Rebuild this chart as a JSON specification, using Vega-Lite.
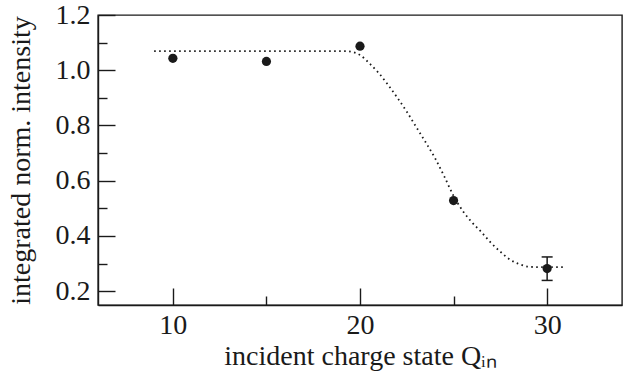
{
  "$schema": "https://vega.github.io/schema/vega-lite/v6.json",
  "width": 524,
  "height": 290,
  "autosize": {"type": "none"},
  "padding": {"left": 98, "top": 15, "right": 1, "bottom": 68},
  "background": "white",
  "config": {
    "view": {"stroke": "#1a1a1a", "strokeWidth": 1.4},
    "axis": {
      "domainColor": "#1a1a1a", "domainWidth": 1.4,
      "tickColor": "#1a1a1a", "tickWidth": 1.4,
      "labelColor": "#1a1a1a", "titleColor": "#1a1a1a",
      "labelFont": "Liberation Serif", "titleFont": "Liberation Serif",
      "labelFontSize": 28, "titleFontSize": 28, "titleFontWeight": "normal",
      "grid": false
    }
  },
  "datasets": {
    "points": [
      {"q": 10, "v": 1.043},
      {"q": 15, "v": 1.032},
      {"q": 20, "v": 1.087},
      {"q": 25, "v": 0.528},
      {"q": 30, "v": 0.282}
    ],
    "err": [
      {"q": 30, "lo": 0.239, "hi": 0.324}
    ],
    "curve": [
      {"q": 9.0, "v": 1.069},
      {"q": 19.3, "v": 1.069},
      {"q": 19.6, "v": 1.066},
      {"q": 20.0, "v": 1.055},
      {"q": 20.5, "v": 1.025},
      {"q": 21.0, "v": 0.99},
      {"q": 21.5, "v": 0.947},
      {"q": 22.0, "v": 0.9},
      {"q": 22.5, "v": 0.85},
      {"q": 23.0, "v": 0.795},
      {"q": 23.5, "v": 0.74},
      {"q": 24.0, "v": 0.683},
      {"q": 24.5, "v": 0.616},
      {"q": 25.0, "v": 0.545},
      {"q": 25.5, "v": 0.49},
      {"q": 26.0, "v": 0.448},
      {"q": 26.5, "v": 0.413},
      {"q": 27.0, "v": 0.375},
      {"q": 27.5, "v": 0.343},
      {"q": 28.0, "v": 0.315},
      {"q": 28.5, "v": 0.298},
      {"q": 29.0, "v": 0.289},
      {"q": 29.5, "v": 0.287},
      {"q": 31.0, "v": 0.287}
    ]
  },
  "encoding": {
    "x": {
      "field": "q", "type": "quantitative",
      "scale": {"domain": [6, 34], "nice": false, "zero": false},
      "axis": {
        "title": "incident charge state Qᵢₙ",
        "values": [10, 15, 20, 25, 30],
        "labelExpr": "datum.value % 10 == 0 ? datum.label : ''",
        "tickSize": {"condition": {"test": "datum.value % 10 == 0", "value": -17}, "value": -9},
        "labelPadding": 23,
        "titlePadding": 3
      }
    },
    "y": {
      "field": "v", "type": "quantitative",
      "scale": {"domain": [0.15, 1.2], "nice": false, "zero": false},
      "axis": {
        "title": "integrated norm. intensity",
        "values": [0.2, 0.3, 0.4, 0.5, 0.6, 0.7, 0.8, 0.9, 1.0, 1.1, 1.2],
        "labelExpr": "round(datum.value * 10) % 2 == 0 ? format(datum.value, '.1f') : ''",
        "tickSize": {"condition": {"test": "round(datum.value * 10) % 2 == 0", "value": -17}, "value": -9},
        "labelPadding": 25,
        "titlePadding": 20
      }
    }
  },
  "layer": [
    {
      "data": {"name": "curve"},
      "mark": {"type": "line", "interpolate": "monotone", "color": "#1a1a1a", "strokeWidth": 1.8, "strokeDash": [1.6, 3.4]}
    },
    {
      "data": {"name": "err"},
      "mark": {"type": "rule", "color": "#1a1a1a", "strokeWidth": 1.5},
      "encoding": {
        "y": {"field": "lo", "type": "quantitative"},
        "y2": {"field": "hi"}
      }
    },
    {
      "data": {"name": "err"},
      "mark": {"type": "tick", "orient": "horizontal", "color": "#1a1a1a", "thickness": 1.5, "size": 11, "opacity": 1},
      "encoding": {
        "y": {"field": "lo", "type": "quantitative"}
      }
    },
    {
      "data": {"name": "err"},
      "mark": {"type": "tick", "orient": "horizontal", "color": "#1a1a1a", "thickness": 1.5, "size": 11, "opacity": 1},
      "encoding": {
        "y": {"field": "hi", "type": "quantitative"}
      }
    },
    {
      "data": {"name": "points"},
      "mark": {"type": "point", "filled": true, "size": 85, "color": "#1a1a1a", "opacity": 1}
    }
  ]
}
